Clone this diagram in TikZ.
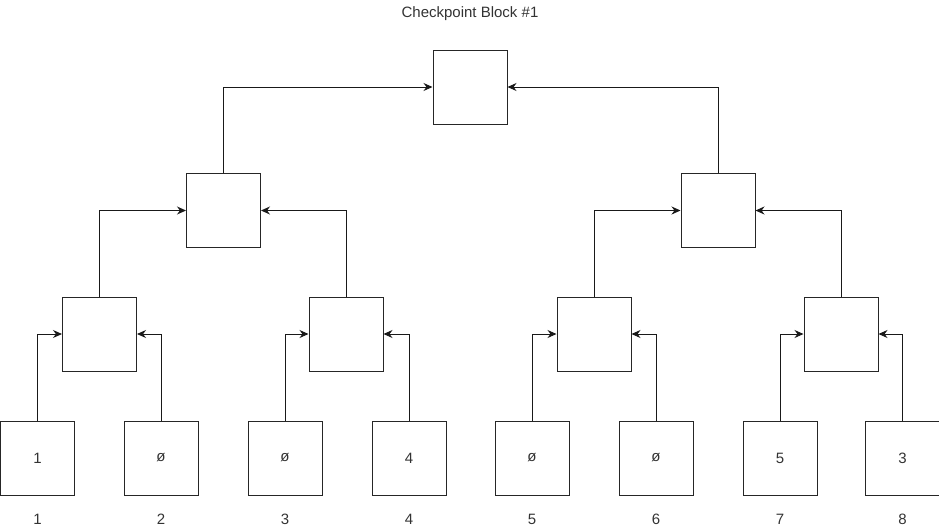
\documentclass[tikz,border=0pt]{standalone}
\usepackage{fontspec}
\setmainfont{Liberation Sans}
\usetikzlibrary{arrows.meta}
\begin{document}
\begin{tikzpicture}[x=1pt,y=-1pt,
  blk/.style={draw=black!85,line width=1pt,minimum width=74pt,minimum height=74pt,inner sep=0pt,font=\fontsize{15}{17}\selectfont,text=black!80},
  lbl/.style={font=\fontsize{15}{17}\selectfont,text=black!80},
  conn/.style={draw=black!90,line width=1pt,-{Stealth[length=9pt,width=8pt]}}]
\useasboundingbox (0,0) rectangle (939,531);
\node[lbl] (title) at (470,14) {Checkpoint Block \#1};
% leaves
\foreach \i/\v/\x in {1/1/37.5,2/ø/161,3/ø/285,4/4/409,5/ø/532,6/ø/656,7/5/780,8/3/902.5}{
  \node[blk] (l\i) at (\x,458) {\v};
  \node[lbl] (n\i) at (\x,519) {\i};
}
% level 2
\node[blk] (a1) at (99.5,334) {};
\node[blk] (a2) at (346,334) {};
\node[blk] (a3) at (594,334) {};
\node[blk] (a4) at (841,334) {};
% level 3
\node[blk] (b1) at (223.5,210.5) {};
\node[blk] (b2) at (718,210.5) {};
% root
\node[blk] (r) at (470,87) {};
% connectors
\draw[conn] (l1.north) |- (a1.west);
\draw[conn] (l2.north) |- (a1.east);
\draw[conn] (l3.north) |- (a2.west);
\draw[conn] (l4.north) |- (a2.east);
\draw[conn] (l5.north) |- (a3.west);
\draw[conn] (l6.north) |- (a3.east);
\draw[conn] (l7.north) |- (a4.west);
\draw[conn] (l8.north) |- (a4.east);
\draw[conn] (a1.north) |- (b1.west);
\draw[conn] (a2.north) |- (b1.east);
\draw[conn] (a3.north) |- (b2.west);
\draw[conn] (a4.north) |- (b2.east);
\draw[conn] (b1.north) |- (r.west);
\draw[conn] (b2.north) |- (r.east);
\end{tikzpicture}
\end{document}
